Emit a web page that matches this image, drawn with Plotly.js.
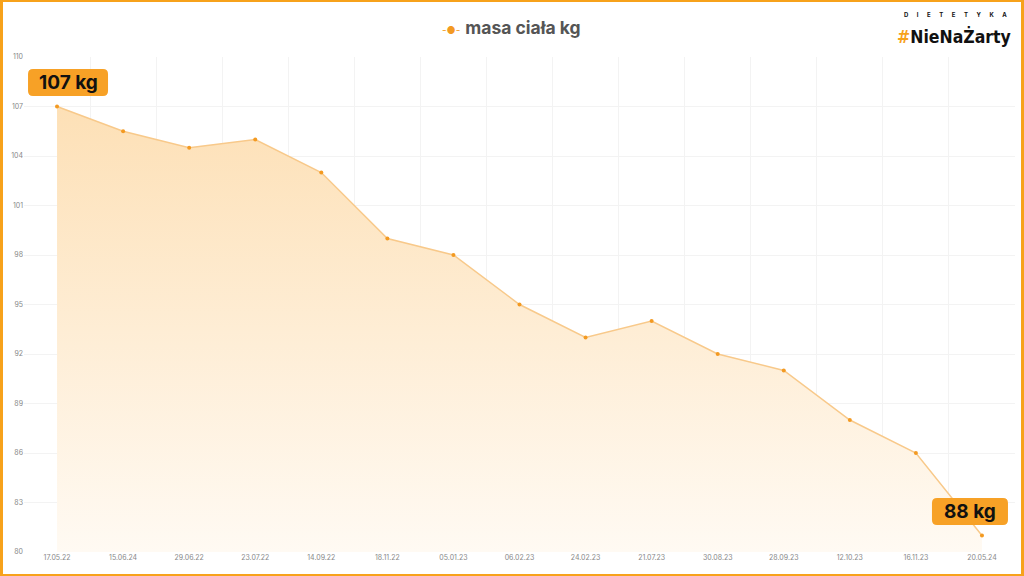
<!DOCTYPE html>
<html>
<head>
<meta charset="utf-8">
<script src="https://cdn.plot.ly/plotly-3.0.1.min.js"></script>
<style>
  html, body { margin: 0; padding: 0; background: #fff; }
  #frame { width: 1024px; height: 576px; box-sizing: border-box; border-style: solid; border-color: #f7a21b; border-width: 2px 3px 2px 3px; }
  #chart { width: 1018px; height: 572px; }
</style>
</head>
<body>
<div id="frame"><div id="chart"></div></div>
<script>
// ---- data ----
const dates = ["17.05.22","15.06.24","29.06.22","23.07.22","14.09.22","18.11.22","05.01.23","06.02.23","24.02.23","21.07.23","30.08.23","28.09.23","12.10.23","16.11.23","20.05.24"];
const weights = [107, 105.5, 104.5, 105, 103, 99, 98, 95, 93, 94, 92, 91, 88, 86, 81];
const seriesName = "masa ciała kg";
const yTicks = [80, 83, 86, 89, 92, 95, 98, 101, 104, 107, 110];
const startLabel = "107 kg";
const endLabel = "88 kg";

const ORANGE = "#f7a126";

function roundedBox(x0, x1, y0, y1, r) {
  return "M " + (x0 + r) + " " + y0 +
    " L " + (x1 - r) + " " + y0 +
    " Q " + x1 + " " + y0 + " " + x1 + " " + (y0 + r) +
    " L " + x1 + " " + (y1 - r) +
    " Q " + x1 + " " + y1 + " " + (x1 - r) + " " + y1 +
    " L " + (x0 + r) + " " + y1 +
    " Q " + x0 + " " + y1 + " " + x0 + " " + (y1 - r) +
    " L " + x0 + " " + (y0 + r) +
    " Q " + x0 + " " + y0 + " " + (x0 + r) + " " + y0 + " Z";
}

const trace = {
  x: dates,
  y: weights,
  name: seriesName,
  type: "scatter",
  mode: "lines+markers",
  line: { color: "#f8c98a", width: 1.5 },
  marker: { color: "#f39a22", size: 4 },
  fill: "tozeroy",
  fillgradient: {
    type: "vertical",
    start: 80,
    stop: 107,
    colorscale: [[0, "rgba(255,250,243,1)"], [1, "rgba(253,224,182,1)"]]
  },
  showlegend: false
};

const lastIdx = dates.length - 1;
const sp = "&nbsp;&nbsp;&nbsp;&nbsp;&nbsp;&nbsp;";
const logoTop = "DIETETYKA".split("").join(sp);

const layout = {
  width: 1018,
  height: 572,
  margin: { l: 21, r: 6, t: 55, b: 22 },
  paper_bgcolor: "#ffffff",
  plot_bgcolor: "#ffffff",
  font: { family: "Inter, 'Open Sans', sans-serif", color: "#888" },
  showlegend: false,
  xaxis: {
    type: "category",
    range: [-0.5, dates.length - 0.5],
    tickson: "boundaries",
    showgrid: true,
    gridcolor: "#f3f3f3",
    gridwidth: 1,
    ticks: "",
    showline: false,
    zeroline: false,
    tickfont: { size: 7, color: "#888" },
    fixedrange: true
  },
  yaxis: {
    range: [80, 110],
    tickvals: yTicks,
    ticktext: yTicks.map(String),
    showgrid: true,
    gridcolor: "#f3f3f3",
    gridwidth: 1,
    zeroline: false,
    showline: false,
    ticks: "",
    tickfont: { size: 7, color: "#888" },
    fixedrange: true
  },
  shapes: [
    {
      type: "path", layer: "above",
      xref: "x", yref: "y",
      xsizemode: "pixel", ysizemode: "pixel",
      xanchor: 0, yanchor: weights[0],
      path: roundedBox(-29, 51, 10.5, 37.5, 5),
      fillcolor: ORANGE, line: { width: 0 }
    },
    {
      type: "path", layer: "above",
      xref: "x", yref: "y",
      xsizemode: "pixel", ysizemode: "pixel",
      xanchor: lastIdx, yanchor: weights[lastIdx],
      path: roundedBox(-50, 26, 10.5, 37.5, 5),
      fillcolor: ORANGE, line: { width: 0 }
    }
  ],
  annotations: [
    {
      x: 0.5, y: 1, xref: "paper", yref: "paper",
      xanchor: "center", yanchor: "middle",
      xshift: -8.5, yshift: 30,
      text: "<span style='color:#f39a22;font-size:10px'>-●-</span> <b>" + seriesName + "</b>",
      showarrow: false,
      font: { family: "Inter, 'Open Sans', sans-serif", size: 17.5, color: "#555" }
    },
    {
      x: dates[0], y: weights[0], xref: "x", yref: "y",
      text: "<b>" + startLabel + "</b>",
      showarrow: false,
      xshift: 11, yshift: 24,
      font: { family: "Inter, 'Open Sans', sans-serif", size: 19, color: "#111" }
    },
    {
      x: dates[lastIdx], y: weights[lastIdx], xref: "x", yref: "y",
      text: "<b>" + endLabel + "</b>",
      showarrow: false,
      xshift: -12, yshift: 24,
      font: { family: "Inter, 'Open Sans', sans-serif", size: 19, color: "#111" }
    },
    {
      x: 1, y: 1, xref: "paper", yref: "paper",
      xanchor: "right", yanchor: "middle",
      xshift: -6, yshift: 43,
      text: "<b>" + logoTop + "</b>",
      showarrow: false,
      font: { family: "Inter, 'DejaVu Sans', sans-serif", size: 6, color: "#111" }
    },
    {
      x: 1, y: 1, xref: "paper", yref: "paper",
      xanchor: "right", yanchor: "middle",
      xshift: -2, yshift: 21,
      text: "<b><span style='color:#f7a21b'>#</span>NieNaŻarty</b>",
      showarrow: false,
      font: { family: "'DejaVu Sans Condensed', 'Liberation Sans Narrow', 'Roboto', sans-serif", size: 17.5, color: "#111" }
    }
  ]
};

Plotly.newPlot("chart", [trace], layout, { displayModeBar: false, staticPlot: true });
</script>
</body>
</html>
